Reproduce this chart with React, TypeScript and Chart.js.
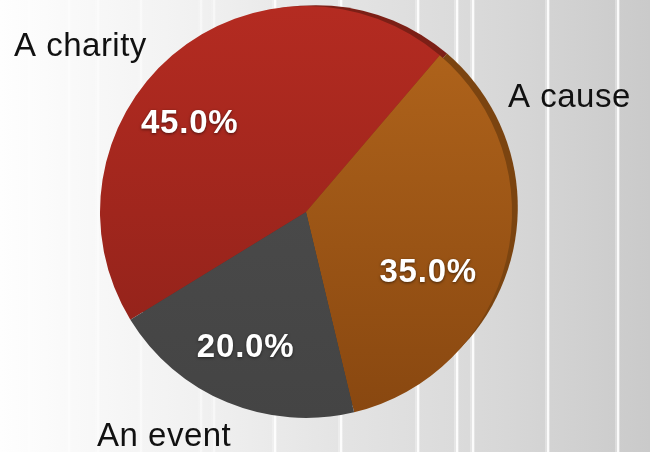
import React, { useEffect, useRef } from "react";
import { Chart, registerables } from "chart.js";

Chart.register(...registerables);

const categories = ["A charity", "A cause", "An event"];
const shares = [45, 35, 20];
const shareLabels = ["45.0%", "35.0%", "20.0%"];

const topColors = ["#b42b21", "#b3661c", "#4e4e4e"];
const bottomColors = ["#8c2119", "#884710", "#444444"];
const rimColors = ["#7c1f16", "#7b4410", "#3a3a3a"];

const W = 650;
const H = 452;
const stripeXs = [28, 68, 97, 140, 200, 213, 274, 340, 417, 456, 472, 547, 617];
const outerLabelPos = [
  { x: 14, y: 56 },
  { x: 508, y: 107 },
  { x: 97, y: 446 },
];
const innerLabelNudge = [
  { dx: -24, dy: 20 },
  { dx: -16, dy: 28 },
  { dx: -6, dy: 5 },
];

const bgPlugin = {
  id: "bgStripes",
  beforeDraw(chart: any) {
    const { ctx } = chart;
    ctx.save();
    const g = ctx.createLinearGradient(0, 0, W, 0);
    g.addColorStop(0, "#fefefe");
    g.addColorStop(0.3, "#f1f1f1");
    g.addColorStop(0.52, "#e4e4e4");
    g.addColorStop(0.78, "#d7d7d7");
    g.addColorStop(1, "#cacaca");
    ctx.fillStyle = g;
    ctx.fillRect(0, 0, W, H);
    stripeXs.forEach((x) => {
      const a = x < 250 ? 0.5 : 1;
      ctx.fillStyle = `rgba(255,255,255,${0.3 * a})`;
      ctx.fillRect(x - 2, 0, 5, H);
      ctx.fillStyle = `rgba(255,255,255,${0.85 * a})`;
      ctx.fillRect(x, 0, 2, H);
    });
    ctx.restore();
  },
};

const rimPlugin = {
  id: "rim",
  beforeDatasetsDraw(chart: any) {
    const { ctx } = chart;
    const meta = chart.getDatasetMeta(0);
    ctx.save();
    meta.data.forEach((arc: any, i: number) => {
      const p = arc.getProps(["x", "y", "startAngle", "endAngle", "outerRadius"], true);
      const cx = p.x + 9.8;
      const cy = p.y - 4.8;
      ctx.beginPath();
      ctx.moveTo(cx, cy);
      ctx.arc(cx, cy, p.outerRadius - 4, p.startAngle, p.endAngle);
      ctx.closePath();
      ctx.fillStyle = rimColors[i];
      ctx.fill();
    });
    ctx.restore();
  },
};

const labelPlugin = {
  id: "sliceLabels",
  afterDatasetsDraw(chart: any) {
    const { ctx } = chart;
    const meta = chart.getDatasetMeta(0);
    ctx.save();
    meta.data.forEach((arc: any, i: number) => {
      const p = arc.getProps(["x", "y", "startAngle", "endAngle", "outerRadius"], true);
      const mid = (p.startAngle + p.endAngle) / 2;
      const r = p.outerRadius * 0.69;
      const lx = p.x + Math.cos(mid) * r + innerLabelNudge[i].dx;
      const ly = p.y + Math.sin(mid) * r + innerLabelNudge[i].dy;
      ctx.font = "bold 33px 'Liberation Sans', Arial, sans-serif";
      (ctx as any).letterSpacing = "0.8px";
      ctx.textAlign = "center";
      ctx.textBaseline = "middle";
      ctx.shadowColor = "rgba(0,0,0,0.55)";
      ctx.shadowBlur = 3;
      ctx.shadowOffsetX = 0;
      ctx.shadowOffsetY = 1;
      ctx.fillStyle = "#ffffff";
      ctx.fillText(shareLabels[i], lx, ly);
    });
    ctx.shadowColor = "transparent";
    ctx.font = "33px 'Liberation Sans', Arial, sans-serif";
    (ctx as any).letterSpacing = "0.5px";
    ctx.textAlign = "left";
    ctx.textBaseline = "alphabetic";
    ctx.fillStyle = "#111111";
    categories.forEach((c, i) => {
      ctx.fillText(c, outerLabelPos[i].x, outerLabelPos[i].y);
    });
    ctx.restore();
  },
};

export default function App() {
  const ref = useRef<HTMLCanvasElement | null>(null);
  useEffect(() => {
    document.body.style.margin = "0";
    const canvas = ref.current!;
    const chart = new Chart(canvas, {
      type: "pie",
      data: {
        labels: categories,
        datasets: [
          {
            data: shares,
            borderWidth: 0,
            backgroundColor: (context: any) => {
              const i = context.dataIndex;
              const area = context.chart.chartArea;
              if (!area) return topColors[i];
              const g = context.chart.ctx.createLinearGradient(0, area.top, 0, area.bottom);
              g.addColorStop(0, topColors[i]);
              g.addColorStop(1, bottomColors[i]);
              return g;
            },
          },
        ],
      },
      options: {
        responsive: false,
        animation: false,
        rotation: 238.5,
        layout: { padding: { left: 100, right: 138, top: 6, bottom: 34 } },
        plugins: {
          legend: { display: false },
          tooltip: { enabled: false },
        },
      },
      plugins: [bgPlugin, rimPlugin, labelPlugin],
    });
    return () => chart.destroy();
  }, []);
  return (
    <div style={{ position: "fixed", left: 0, top: 0, width: W, height: H }}>
      <canvas ref={ref} width={W} height={H} style={{ display: "block" }} />
    </div>
  );
}
